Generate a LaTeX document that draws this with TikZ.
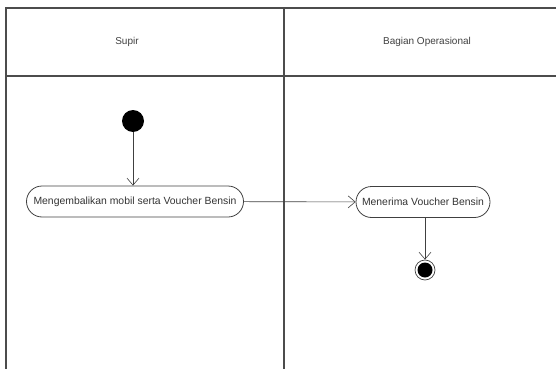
\documentclass[tikz,border=0pt]{standalone}
\usepackage{fontspec}
\setmainfont{Liberation Sans}
\usetikzlibrary{arrows.meta}
\begin{document}
\begin{tikzpicture}[x=1pt,y=-1pt,
  lane/.style={draw=black!70,line width=1.1pt},
  act/.style={draw=black!75,line width=0.8pt,rounded corners=15.5pt,minimum height=31pt,inner xsep=5pt,font=\fontsize{10.4}{12}\selectfont,text=black!80},
  flow/.style={draw=black!75,line width=0.6pt,-{Straight Barb[length=7pt,width=12pt,line width=0.6pt]}},
  lbl/.style={font=\fontsize{10}{12}\selectfont,text=black!75}]
\useasboundingbox (0,0) rectangle (556,369);
\draw[lane] (556,8) -- (6,8) -- (6,369);
\draw[lane] (6,76) -- (556,76);
\draw[lane] (284,8) -- (284,369);
\node[lbl] (supir) at (127,42) {Supir};
\node[lbl] (bagian) at (427,42) {Bagian Operasional};
\node[circle,fill=black,inner sep=0pt,minimum size=22pt] (start) at (133,121) {};
\node[act,minimum width=217pt] (a1) at (135,201.5) {Mengembalikan mobil serta Voucher Bensin};
\node[act,minimum width=134pt] (a2) at (423,202) {Menerima Voucher Bensin};
\node[circle,draw=black!75,line width=0.7pt,inner sep=0pt,minimum size=20pt] (end) at (425,270) {};
\node[circle,fill=black,inner sep=0pt,minimum size=15pt] at (end) {};
\draw[flow] (start) -- (start |- a1.north);
\draw[flow] (a1) -- (a2);
\draw[flow] (a2.south -| end) -- (end);
\end{tikzpicture}
\end{document}
